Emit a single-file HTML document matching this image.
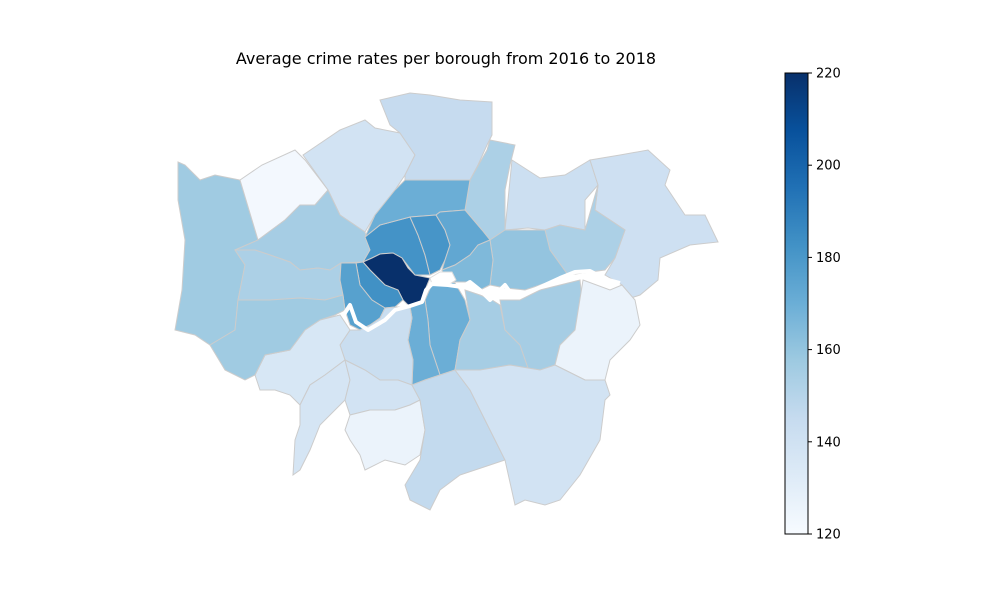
<!DOCTYPE html>
<html><head><meta charset="utf-8"><style>
body{margin:0;background:#fff;font-family:"DejaVu Sans","Liberation Sans",sans-serif;}
svg{display:block}
</style></head><body>
<svg id="chart" width="1000" height="600" viewBox="0 0 1000 600">
<text x="446" y="64" text-anchor="middle" font-size="16" font-family="DejaVu Sans, sans-serif">Average crime rates per borough from 2016 to 2018</text>
<g id="map"></g>
<g id="cbar"></g>
</svg>
<script>
const boroughs=["Hillingdon","Harrow","Barnet","Enfield","Waltham Forest","Redbridge","Havering","Barking and Dagenham","Newham","Brent","Ealing","Camden","Haringey","Islington","Hackney","Tower Hamlets","Westminster","Kensington and Chelsea","Hammersmith and Fulham","Southwark","Lambeth","Lewisham","Greenwich","Bexley","Wandsworth","Richmond","Hounslow","Kingston","Merton","Sutton","Croydon","Bromley"];
const crimeValues=[157,122,139,145,153,142,141,153,160,155,153,182,170,181,173,165,220,183,176,170,170,155,155,126,143,136,157,137,139,126,146,139];
const cbarTicks=[120,140,160,180,200,220];
const vmin=120,vmax=220;
const shapes={
"Hillingdon":"178,162 185,165 200,180 215,175 240,180 258,240 235,250 245,265 238,300 235,330 210,345 195,335 175,330 182,290 185,240 178,200",
"Harrow":"240,180 262,165 295,150 305,160 328,190 315,205 300,205 285,220 258,240",
"Barnet":"303,155 340,130 365,120 375,128 400,133 415,155 405,175 395,190 375,215 365,232 340,215 328,190",
"Enfield":"380,100 410,93 430,95 460,100 492,102 492,135 487,145 478,165 470,180 405,180 405,175 415,155 400,133 390,125",
"Waltham Forest":"490,140 515,145 510,165 505,190 505,230 490,240 482,230 465,210 470,180 487,150",
"Redbridge":"512,160 540,178 565,175 590,160 598,185 585,200 585,230 560,225 545,230 528,228 505,230 510,180",
"Havering":"590,160 620,155 648,150 670,170 665,185 685,215 705,215 718,242 690,245 660,258 658,280 640,295 625,300 622,285 605,275 615,258 625,230 595,210 598,185",
"Barking and Dagenham":"598,185 595,210 625,230 615,258 605,270 590,272 568,275 550,250 545,230 560,225 585,230",
"Newham":"490,240 505,230 545,230 550,250 568,275 555,280 525,290 505,288 490,285 493,260",
"Brent":"285,220 300,205 315,205 328,190 340,215 365,232 370,250 363,262 341,263 330,270 318,268 300,270 290,262 270,255 255,250 235,250 258,240",
"Ealing":"235,250 255,250 270,255 290,262 300,270 318,268 330,270 341,263 340,280 343,295 325,300 300,298 270,300 245,300 238,300 245,265",
"Camden":"365,237 380,225 410,217 418,235 425,255 430,275 415,275 402,258 393,253 380,254 372,258 363,262 370,250",
"Haringey":"395,190 405,180 470,180 465,210 440,212 436,215 410,217 380,225 365,237 375,215",
"Islington":"410,217 436,215 445,230 450,245 445,260 440,270 430,275 425,255 418,235",
"Hackney":"436,215 440,212 465,210 482,230 490,240 478,245 470,255 455,265 442,270 445,260 450,245 445,230",
"Tower Hamlets":"442,270 455,265 470,255 478,245 490,240 493,260 490,285 480,290 470,282 455,282 445,280",
"Westminster":"363,262 372,258 380,254 393,253 402,258 408,268 415,275 430,278 425,290 422,303 410,307 403,300 398,290 385,285 378,278 370,270",
"Kensington and Chelsea":"356,263 363,262 370,270 378,278 385,285 398,290 403,300 395,307 385,308 372,300 360,285",
"Hammersmith and Fulham":"341,263 356,263 360,285 372,300 385,308 380,318 370,325 360,330 350,325 345,310 343,295 340,280",
"Southwark":"432,284 445,280 455,283 465,300 470,320 460,340 455,370 440,375 430,345 428,320 425,300",
"Lambeth":"422,303 425,300 428,320 430,345 440,375 425,380 412,385 413,360 408,340 412,318 410,307",
"Lewisham":"465,290 480,295 492,300 500,305 505,330 520,345 528,368 510,365 480,370 455,370 460,340 470,320",
"Greenwich":"500,300 520,300 540,290 580,280 583,310 575,330 560,345 555,365 540,370 528,368 520,345 505,330",
"Bexley":"583,280 610,290 622,285 635,300 640,325 630,340 610,360 605,380 585,380 565,370 555,365 560,345 575,330",
"Wandsworth":"360,330 370,325 380,318 385,308 395,307 410,307 412,318 408,340 413,360 412,385 398,380 380,380 365,370 345,360 340,345 350,330",
"Richmond":"290,350 305,330 320,320 340,315 350,330 340,345 345,360 325,375 310,385 305,395 300,405 290,395 275,390 260,390 255,375 265,355",
"Hounslow":"245,300 270,300 300,298 325,300 343,295 345,310 335,315 320,320 305,330 290,350 265,355 255,375 245,380 225,370 210,345 235,330 238,300",
"Kingston":"300,405 305,395 310,385 325,375 345,360 350,380 345,400 335,410 320,425 310,450 300,470 293,475 295,440 300,425",
"Merton":"345,360 365,370 380,380 398,380 412,385 420,400 410,405 395,410 370,410 350,415 345,400 350,380",
"Sutton":"350,415 370,410 395,410 410,405 420,400 425,430 420,455 405,465 385,460 365,470 360,455 350,440 345,430",
"Croydon":"412,385 425,380 440,375 455,370 470,390 480,410 495,440 505,460 490,465 475,470 460,475 440,490 430,510 410,500 405,485 420,460 425,430 420,400",
"Bromley":"455,370 480,370 510,365 528,368 540,370 555,365 565,370 585,380 605,380 610,395 605,400 600,440 580,475 560,500 545,505 525,500 515,505 505,460 495,440 480,410 470,390"
};
const stops=["#f7fbff","#deebf7","#c6dbef","#9ecae1","#6baed6","#4292c6","#2171b5","#08519c","#08306b"];
function hex(h){return [1,3,5].map(i=>parseInt(h.substr(i,2),16));}
function color(v){let t=Math.max(0,Math.min(1,(v-vmin)/(vmax-vmin)))*(stops.length-1);let i=Math.min(Math.floor(t),stops.length-2),f=t-i;const a=hex(stops[i]),b=hex(stops[i+1]);return "rgb("+a.map((x,k)=>Math.round(x+(b[k]-x)*f)).join(",")+")";}
const NS="http://www.w3.org/2000/svg";
const map=document.getElementById("map");
boroughs.forEach((b,i)=>{const p=document.createElementNS(NS,"polygon");p.setAttribute("points",shapes[b]);p.setAttribute("fill",color(crimeValues[i]));p.setAttribute("stroke","#cccccc");p.setAttribute("stroke-width","1");


map.appendChild(p);});
const city=document.createElementNS(NS,"polygon");city.setAttribute("points","430,278 440,272 452,272 456,280 448,285 432,284");city.setAttribute("fill","#fff");city.setAttribute("stroke","#ddd");


map.appendChild(city);
const river=document.createElementNS(NS,"polyline");river.setAttribute("points","343,316 350,305 356,322 368,330 385,320 395,310 410,306 422,302 426,290 432,284 448,285 462,287 470,282 480,290 490,300 498,292 505,285 512,295 525,294 545,285 560,278 575,272 590,271 605,279 620,283");river.setAttribute("fill","none");river.setAttribute("stroke","#fff");river.setAttribute("stroke-width","4");river.setAttribute("stroke-linejoin","round");


map.appendChild(river);
const cb=document.getElementById("cbar");const x0=785,w=23,yTop=73,yBot=534;
function cy(v){return yBot-(v-vmin)/(vmax-vmin)*(yBot-yTop);}
const defs=document.createElementNS(NS,"defs");const g=document.createElementNS(NS,"linearGradient");g.id="cg";g.setAttribute("x1","0");g.setAttribute("y1","1");g.setAttribute("x2","0");g.setAttribute("y2","0");
stops.forEach((s,i)=>{const st=document.createElementNS(NS,"stop");st.setAttribute("offset",i/(stops.length-1));st.setAttribute("stop-color",s);g.appendChild(st);});
defs.appendChild(g);cb.appendChild(defs);
const r=document.createElementNS(NS,"rect");r.setAttribute("x",x0);r.setAttribute("y",yTop);r.setAttribute("width",w);r.setAttribute("height",yBot-yTop);r.setAttribute("fill","url(#cg)");r.setAttribute("stroke","#000");r.setAttribute("stroke-width","1");


cb.appendChild(r);
cbarTicks.forEach(t=>{const y=cy(t);const l=document.createElementNS(NS,"line");l.setAttribute("x1",x0+w);l.setAttribute("x2",x0+w+4);l.setAttribute("y1",y);l.setAttribute("y2",y);l.setAttribute("stroke","#000");


cb.appendChild(l);
const tx=document.createElementNS(NS,"text");tx.setAttribute("x",x0+w+8);tx.setAttribute("y",y+4.5);tx.setAttribute("font-size","13");tx.setAttribute("font-family","DejaVu Sans, sans-serif");tx.textContent=t;


cb.appendChild(tx);});
</script>
</body></html>
